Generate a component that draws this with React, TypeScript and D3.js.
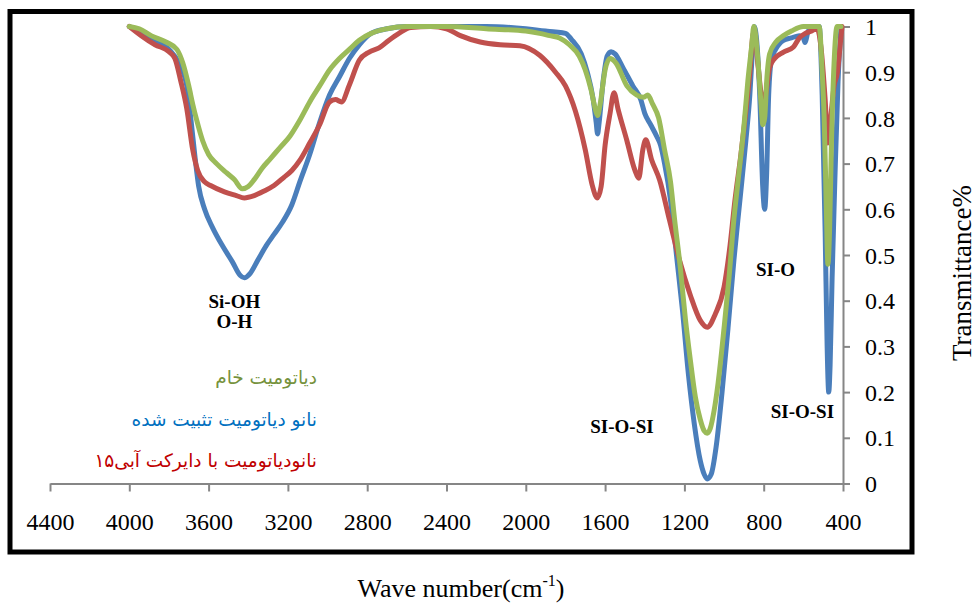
import { useRef, useEffect } from 'react';
import * as d3 from 'd3';

type Pt = [number, number];

// [wave number, transmittance]
const rawDiatomite: Pt[] = [
  [4000, 1.0], [3950, 0.995], [3890, 0.98], [3810, 0.965], [3760, 0.95], [3730, 0.92],
  [3700, 0.87], [3680, 0.83], [3660, 0.795], [3630, 0.75], [3600, 0.72], [3560, 0.7],
  [3510, 0.68], [3470, 0.665], [3430, 0.645], [3400, 0.65], [3370, 0.665], [3330, 0.69],
  [3290, 0.71], [3240, 0.735], [3190, 0.76], [3140, 0.795], [3090, 0.835], [3040, 0.87],
  [2990, 0.905], [2940, 0.93], [2890, 0.95], [2840, 0.97], [2780, 0.985], [2700, 0.995],
  [2600, 1.0], [2400, 1.0], [2200, 0.995], [2000, 0.99], [1930, 0.985], [1880, 0.98],
  [1830, 0.975], [1780, 0.96], [1730, 0.935], [1700, 0.905], [1670, 0.86], [1650, 0.82],
  [1638, 0.805], [1625, 0.83], [1600, 0.905], [1575, 0.93], [1545, 0.92], [1490, 0.87],
  [1440, 0.85], [1405, 0.845], [1385, 0.85], [1360, 0.83], [1330, 0.8], [1300, 0.73],
  [1270, 0.66], [1250, 0.58], [1220, 0.47], [1195, 0.36], [1170, 0.27], [1145, 0.19],
  [1120, 0.14], [1100, 0.115], [1085, 0.11], [1070, 0.12], [1050, 0.16], [1030, 0.22],
  [1000, 0.34], [975, 0.45], [950, 0.58], [930, 0.66], [900, 0.78], [880, 0.88],
  [860, 0.96], [850, 1.0], [830, 0.93], [815, 0.84], [804, 0.785], [795, 0.8],
  [785, 0.88], [770, 0.94], [740, 0.965], [700, 0.98], [660, 0.99], [600, 1.0],
  [520, 1.0], [505, 0.9], [495, 0.8], [485, 0.62], [476, 0.48], [468, 0.55],
  [458, 0.75], [445, 0.92], [430, 1.0], [410, 1.0],
];

const nanoFixed: Pt[] = [
  [4000, 1.0], [3950, 0.99], [3890, 0.975], [3800, 0.95], [3750, 0.92], [3710, 0.87],
  [3690, 0.8], [3670, 0.72], [3650, 0.65], [3620, 0.6], [3580, 0.56], [3530, 0.52],
  [3480, 0.485], [3440, 0.455], [3420, 0.45], [3390, 0.46], [3350, 0.49], [3310, 0.52],
  [3270, 0.545], [3230, 0.57], [3180, 0.61], [3140, 0.66], [3090, 0.72], [3040, 0.79],
  [2990, 0.85], [2940, 0.89], [2890, 0.93], [2840, 0.96], [2780, 0.985], [2700, 0.995],
  [2600, 1.0], [2400, 1.0], [2200, 1.0], [2000, 0.995], [1900, 0.99], [1850, 0.988],
  [1800, 0.985], [1770, 0.972], [1720, 0.94], [1690, 0.9], [1660, 0.84], [1645, 0.79],
  [1638, 0.765], [1630, 0.79], [1610, 0.88], [1590, 0.935], [1570, 0.945], [1550, 0.94],
  [1510, 0.91], [1460, 0.87], [1420, 0.84], [1400, 0.81], [1370, 0.785], [1340, 0.76],
  [1320, 0.74], [1300, 0.7], [1270, 0.62], [1240, 0.5], [1210, 0.38], [1180, 0.24],
  [1150, 0.13], [1120, 0.05], [1100, 0.02], [1085, 0.01], [1065, 0.02], [1040, 0.08],
  [1010, 0.2], [980, 0.34], [950, 0.49], [920, 0.62], [890, 0.75], [870, 0.85],
  [855, 0.96], [848, 1.0], [820, 0.85], [805, 0.65], [795, 0.6], [785, 0.68],
  [775, 0.85], [760, 0.93], [740, 0.95], [700, 0.97], [660, 0.975], [620, 0.98],
  [600, 0.975], [592, 0.965], [575, 0.99], [540, 1.0], [520, 1.0], [505, 0.85],
  [490, 0.55], [480, 0.3], [472, 0.2], [465, 0.26], [455, 0.45], [440, 0.68],
  [425, 0.88], [410, 1.0],
];

const nanoDye: Pt[] = [
  [4000, 1.0], [3940, 0.98], [3870, 0.96], [3800, 0.945], [3770, 0.93], [3740, 0.88],
  [3710, 0.82], [3680, 0.73], [3655, 0.685], [3620, 0.66], [3590, 0.652], [3520, 0.638],
  [3460, 0.63], [3420, 0.625], [3370, 0.63], [3320, 0.64], [3270, 0.652], [3220, 0.67],
  [3180, 0.685], [3140, 0.707], [3090, 0.745], [3040, 0.785], [2990, 0.835], [2960, 0.84],
  [2930, 0.835], [2890, 0.872], [2840, 0.926], [2790, 0.944], [2740, 0.953], [2690, 0.97],
  [2640, 0.985], [2580, 0.998], [2480, 1.0], [2400, 0.995], [2330, 0.98], [2230, 0.966],
  [2130, 0.96], [2030, 0.958], [1930, 0.937], [1850, 0.9], [1800, 0.87], [1750, 0.815],
  [1700, 0.73], [1665, 0.653], [1640, 0.625], [1620, 0.65], [1600, 0.74], [1575, 0.81],
  [1555, 0.855], [1535, 0.82], [1490, 0.75], [1450, 0.686], [1430, 0.668], [1410, 0.73],
  [1395, 0.752], [1365, 0.708], [1325, 0.664], [1275, 0.576], [1225, 0.489], [1170, 0.412],
  [1120, 0.357], [1085, 0.342], [1045, 0.37], [1000, 0.43], [970, 0.52], [945, 0.62],
  [915, 0.72], [895, 0.795], [870, 0.9], [855, 0.98], [848, 0.99], [830, 0.92],
  [812, 0.85], [800, 0.83], [790, 0.85], [770, 0.91], [745, 0.93], [700, 0.944],
  [650, 0.955], [620, 0.975], [590, 0.985], [560, 0.99], [530, 0.995], [510, 0.95],
  [490, 0.84], [476, 0.745], [462, 0.8], [445, 0.87], [428, 0.9], [412, 0.97], [405, 1.0],
];

const seriesNames = ['نانو دیاتومیت تثبیت شده', 'نانودیاتومیت با دایرکت آبی۱۵', 'دیاتومیت خام'];
const seriesData = [nanoFixed, nanoDye, rawDiatomite];
const seriesColors = ['#4a7ebb', '#c0504d', '#9bbb59'];
const legendColors = ['#0070c0', '#c00000', '#76923c'];

const xTicks = [4400, 4000, 3600, 3200, 2800, 2400, 2000, 1600, 1200, 800, 400];
const yTicks = [0, 0.1, 0.2, 0.3, 0.4, 0.5, 0.6, 0.7, 0.8, 0.9, 1];

const bandLabels: { text: string; w: number; t: number }[] = [
  { text: 'Si-OH', w: 3470, t: 0.385 },
  { text: 'O-H', w: 3470, t: 0.34 },
  { text: 'SI-O-SI', w: 1515, t: 0.11 },
  { text: 'SI-O', w: 740, t: 0.455 },
  { text: 'SI-O-SI', w: 605, t: 0.143 },
];

const serif = '"Liberation Serif", "Times New Roman", serif';

const App = () => {
  const gx = useRef<SVGGElement>(null);
  const gy = useRef<SVGGElement>(null);

  const width = 978;
  const height = 605;

  const x = d3.scaleLinear().domain([4400, 400]).range([50, 843]);
  const y = d3.scaleLinear().domain([0, 1]).range([483.5, 26.5]);

  const line = d3
    .line<Pt>()
    .x((d) => x(d[0]))
    .y((d) => y(d[1]))
    .curve(d3.curveMonotoneX);

  useEffect(() => {
    const el = gx.current;
    if (el) {
      const g = d3.select(el);
      g.call(d3.axisBottom(x).tickValues(xTicks).tickSize(8).tickSizeOuter(0).tickFormat((d) => `${d}`));
      g.attr('font-family', serif).attr('font-size', 24);
      g.select('.domain').attr('stroke', '#868686').attr('stroke-width', 2);
      g.selectAll('.tick line').attr('stroke', '#868686').attr('stroke-width', 2);
      g.selectAll('.tick text').attr('y', 46.5).attr('dy', 0).attr('fill', '#000');
    }
    return () => {
      d3.select(el).selectAll('*').remove();
    };
  }, [gx]);

  useEffect(() => {
    const el = gy.current;
    if (el) {
      const g = d3.select(el);
      g.call(d3.axisRight(y).tickValues(yTicks).tickSize(7).tickSizeOuter(0).tickFormat((d) => `${d}`));
      g.attr('font-family', serif).attr('font-size', 24);
      g.select('.domain').attr('stroke', '#868686').attr('stroke-width', 2);
      g.selectAll('.tick line').attr('stroke', '#868686').attr('stroke-width', 2);
      g.selectAll('.tick text').attr('x', 22).attr('dy', '0.34em').attr('fill', '#000');
    }
    return () => {
      d3.select(el).selectAll('*').remove();
    };
  }, [gy]);

  return (
    <svg width={width} height={height} style={{ position: 'absolute', left: 0, top: 0 }}>
      <rect x={0} y={0} width={width} height={height} fill="#fff" />
      <rect x={10} y={11.5} width={902} height={540.5} fill="none" stroke="#000" strokeWidth={5} />
      <g ref={gx} transform={`translate(0,${y(0)})`} />
      <g ref={gy} transform={`translate(${x(400)},0)`} />
      {seriesData.map((d, i) => (
        <path
          key={i}
          d={line(d)!}
          fill="none"
          stroke={seriesColors[i]}
          strokeWidth={5}
          strokeLinejoin="round"
          strokeLinecap="round"
        />
      ))}
      {bandLabels.map((b, i) => (
        <text key={i} x={x(b.w)} y={y(b.t)} textAnchor="middle" fontFamily={serif} fontWeight="bold" fontSize={19}>
          {b.text}
        </text>
      ))}
      {[2, 0, 1].map((si, k) => (
        <text
          key={si}
          x={317}
          y={384 + k * 41.5}
          textAnchor="end"
          fill={legendColors[si]}
          fontFamily='"DejaVu Sans", sans-serif'
          fontSize={18.5}
        >
          {seriesNames[si]}
        </text>
      ))}
      <text x={461} y={597} textAnchor="middle" fontFamily={serif} fontSize={26}>
        Wave number(cm
        <tspan fontSize={16} dy={-11}>-1</tspan>
        <tspan dy={11}>)</tspan>
      </text>
      <text transform="translate(971,273) rotate(-90)" textAnchor="middle" fontFamily={serif} fontSize={27}>
        Transmittance%
      </text>
    </svg>
  );
};

export default App;
